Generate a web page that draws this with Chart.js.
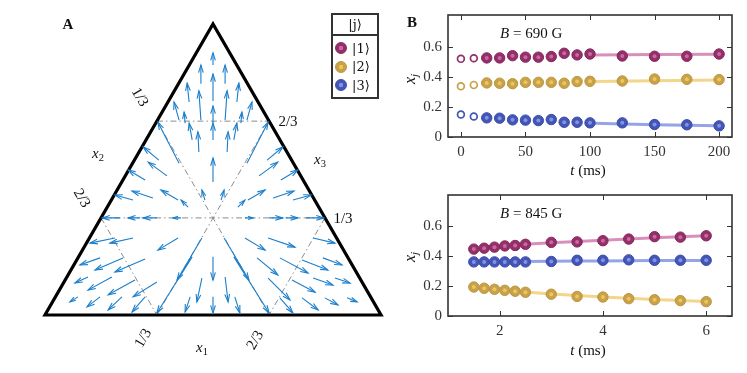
<!DOCTYPE html>
<html>
<head>
<meta charset="utf-8">
<script src="https://cdn.jsdelivr.net/npm/chart.js@4.4.1/dist/chart.umd.min.js"></script>
<style>
  body { margin:0; background:#fff; }
  #fig { position:relative; width:747px; height:373px; overflow:hidden; font-family:"Liberation Serif","DejaVu Serif",serif; color:#111; }
  #fig canvas { position:absolute; }
  .t { position:absolute; white-space:nowrap; line-height:1; font-size:15px; transform:translate(-50%,-50%); }
  .tl { transform:translate(0,-50%); }
  .r60 { transform:translate(-50%,-50%) rotate(60deg); }
  .rm60 { transform:translate(-50%,-50%) rotate(-60deg); }
  .rm90 { transform:translate(-50%,-50%) rotate(-90deg); }
  .b { font-weight:bold; }
  sub { font-size:70%; vertical-align:-0.3em; line-height:0; }
  .ket { font-family:"DejaVu Serif",serif; font-size:13px; }
  #legend { position:absolute; left:331px; top:13px; width:44px; height:82px; border:2px solid #333; font-size:14px; }
  #legend .lh { height:19px; border-bottom:2px solid #333; text-align:center; line-height:20px; }
  #legend .rows { padding-top:3px; }
  #legend .lr { height:18.5px; display:flex; align-items:center; padding-left:2px; }
  #legend .mk { width:10px; height:10px; border-radius:50%; border:1px solid; margin-right:5px; }
</style>
</head>
<body>
<div id="fig">
  <canvas id="tri" width="400" height="373" style="left:0;top:0"></canvas>
  <canvas id="top" width="347" height="180" style="left:400px;top:0"></canvas>
  <canvas id="bot" width="347" height="193" style="left:400px;top:180px"></canvas>

  <div class="t b" style="left:68px;top:24px">A</div>
  <div class="t b" style="left:412px;top:22px">B</div>

  <div class="t r60" style="left:140px;top:97px">1/3</div>
  <div class="t r60" style="left:82px;top:198px">2/3</div>
  <div class="t" style="left:98px;top:153px"><i>x</i><sub>2</sub></div>
  <div class="t" style="left:288px;top:121px">2/3</div>
  <div class="t" style="left:343px;top:218px">1/3</div>
  <div class="t" style="left:320px;top:159px"><i>x</i><sub>3</sub></div>
  <div class="t rm60" style="left:143px;top:338px">1/3</div>
  <div class="t rm60" style="left:255px;top:340px">2/3</div>
  <div class="t" style="left:202px;top:347px"><i>x</i><sub>1</sub></div>

  <div id="legend">
    <div class="lh"><span class="ket">|j⟩</span></div>
    <div class="rows">
      <div class="lr"><span class="mk" style="background:radial-gradient(circle,#c86a9f 0 2px,#932f69 2.4px);border-color:#86265c"></span><span class="ket">|1⟩</span></div>
      <div class="lr"><span class="mk" style="background:radial-gradient(circle,#eac75c 0 2px,#c8a14a 2.4px);border-color:#bb953f"></span><span class="ket">|2⟩</span></div>
      <div class="lr"><span class="mk" style="background:radial-gradient(circle,#8193e2 0 2px,#4355b5 2.4px);border-color:#3a4aa8"></span><span class="ket">|3⟩</span></div>
    </div>
  </div>

  <div class="t tl" style="left:500px;top:33px;font-size:15px"><i>B</i> = 690 G</div>
  <div class="t tl" style="left:500px;top:213px;font-size:15px"><i>B</i> = 845 G</div>
  <div class="t rm90" style="left:410px;top:79px;font-size:16px"><i>x</i><sub><i>j</i></sub></div>
  <div class="t rm90" style="left:410px;top:257px;font-size:16px"><i>x</i><sub><i>j</i></sub></div>
  <div class="t" style="left:588px;top:170px;font-size:15px"><i>t</i> (ms)</div>
  <div class="t" style="left:588px;top:350px;font-size:15px"><i>t</i> (ms)</div>
</div>

<script>
// ---- panel A: ternary flow field (triangle side = 1) ----
const cornerX = [0, 1, 0.5, 0, 1];
const cornerY = [0, 0, 0.866, 0, 0];

// dash-dot guides x_j = 1/3 and x_j = 2/3
const guideX1 = [0.167, 0.333, 0.667, 0.333, 0.167, 0.833];
const guideY1 = [0.289, 0,     0,     0.577, 0.289, 0.289];
const guideX2 = [0.833, 0.667, 0.333, 0.667, 0.333, 0.667];
const guideY2 = [0.289, 0.577, 0.577, 0.577, 0,     0];

// arrows: tail -> head
const arrowTailX = [0.5,0.464,0.536,0.5,0.429,0.571,0.464,0.536,0.399,0.601,0.417,0.583,0.5,
  0.5,0.5,0.458,0.542,0.438,0.562,0.399,0.601,0.476,0.524,
  0.339,0.363,0.298,0.396,0.321,0.262,0.426,0.405,0.333,0.283,0.223,
  0.661,0.637,0.702,0.604,0.679,0.738,0.574,0.595,0.667,0.717,0.777,
  0.208,0.262,0.396,0.164,0.232,0.298,0.467,0.128,0.199,0.268,0.333,0.098,0.164,0.229,0.298,0.438,
  0.5,0.5,0.467,0.432,0.536,0.565,
  0.595,0.664,0.798,0.631,0.699,0.765,0.827,0.664,0.735,0.798,0.863,0.699,0.765,0.833,0.899,0.562,0.533];
const arrowTailY = [0.744,0.688,0.688,0.637,0.634,0.634,0.580,0.580,0.580,0.580,0.571,0.571,0.565,
  0.396,0.521,0.485,0.485,0.521,0.521,0.452,0.452,0.342,0.342,
  0.461,0.414,0.402,0.342,0.348,0.342,0.321,0.289,0.289,0.289,0.289,
  0.461,0.414,0.402,0.342,0.348,0.342,0.321,0.289,0.289,0.289,0.289,
  0.229,0.229,0.229,0.170,0.170,0.167,0.229,0.113,0.113,0.104,0.098,0.054,0.054,0.054,0.054,0.173,
  0.173,0.054,0.110,0.054,0.113,0.054,
  0.229,0.229,0.229,0.170,0.170,0.164,0.170,0.110,0.104,0.110,0.110,0.051,0.051,0.051,0.051,0.173,0.229];
const arrowHeadX = [0.5,0.464,0.536,0.5,0.423,0.577,0.458,0.542,0.384,0.616,0.414,0.586,0.5,
  0.5,0.5,0.455,0.545,0.429,0.571,0.336,0.664,0.467,0.533,
  0.292,0.307,0.247,0.345,0.259,0.208,0.405,0.381,0.292,0.247,0.170,
  0.708,0.693,0.753,0.655,0.741,0.792,0.595,0.619,0.708,0.753,0.830,
  0.134,0.193,0.336,0.104,0.149,0.208,0.393,0.089,0.128,0.188,0.262,0.074,0.125,0.188,0.259,0.333,
  0.5,0.5,0.452,0.417,0.545,0.580,
  0.655,0.744,0.863,0.693,0.783,0.842,0.884,0.729,0.804,0.857,0.908,0.738,0.813,0.872,0.929,0.667,0.607];
const arrowHeadY = [0.780,0.744,0.744,0.717,0.690,0.690,0.667,0.667,0.634,0.634,0.604,0.604,0.622,
  0.467,0.571,0.545,0.545,0.571,0.571,0.574,0.574,0.372,0.372,
  0.500,0.455,0.432,0.372,0.369,0.357,0.342,0.289,0.289,0.289,0.289,
  0.500,0.455,0.432,0.372,0.369,0.357,0.342,0.289,0.289,0.289,0.289,
  0.214,0.214,0.193,0.149,0.134,0.128,0.104,0.095,0.074,0.060,0.054,0.039,0.024,0.015,0.009,0.006,
  0.104,0.006,0.039,0.009,0.039,0.006,
  0.193,0.202,0.214,0.119,0.125,0.134,0.149,0.045,0.068,0.089,0.095,0.006,0.015,0.030,0.039,0.006,0.104];

// ---- panel B data ----
const tTop = [0, 10, 20, 30, 40, 50, 60, 70, 80, 90, 100, 125, 150, 175, 200];
const x1Top = [0.519, 0.523, 0.525, 0.525, 0.540, 0.530, 0.530, 0.534, 0.556, 0.545, 0.551, 0.538, 0.536, 0.536, 0.551];
const x2Top = [0.337, 0.346, 0.359, 0.357, 0.354, 0.363, 0.363, 0.363, 0.357, 0.368, 0.370, 0.372, 0.385, 0.383, 0.381];
const x3Top = [0.149, 0.136, 0.127, 0.125, 0.114, 0.112, 0.109, 0.116, 0.098, 0.098, 0.094, 0.094, 0.083, 0.081, 0.074];
const fitTopT = [103, 150, 200];
const fit1Top = [0.545, 0.547, 0.550];
const fit2Top = [0.368, 0.374, 0.378];
const fit3Top = [0.092, 0.082, 0.074];
const errT = [175];
const errLo = [0.514];
const errHi = [0.562];
const xTicksTop = [0, 50, 100, 150, 200];

const tBot = [1.5, 1.7, 1.9, 2.1, 2.3, 2.5, 3, 3.5, 4, 4.5, 5, 5.5, 6];
const x1Bot = [0.448, 0.454, 0.461, 0.469, 0.472, 0.480, 0.493, 0.496, 0.504, 0.515, 0.531, 0.528, 0.537];
const x2Bot = [0.194, 0.186, 0.179, 0.172, 0.166, 0.159, 0.146, 0.131, 0.127, 0.116, 0.109, 0.103, 0.096];
const x3Bot = [0.362, 0.362, 0.362, 0.362, 0.362, 0.362, 0.365, 0.373, 0.373, 0.376, 0.373, 0.373, 0.373];
const fitBotT = [2.5, 3, 3.5, 4, 4.5, 5, 5.5, 6];
const fit1Bot = [0.481, 0.490, 0.499, 0.507, 0.515, 0.523, 0.530, 0.537];
const fit2Bot = [0.160, 0.148, 0.137, 0.127, 0.118, 0.110, 0.103, 0.097];
const fit3Bot = [0.364, 0.366, 0.368, 0.369, 0.370, 0.371, 0.372, 0.372];
const xTicksBot = [2, 4, 6];
const yTicks = [0, 0.2, 0.4, 0.6];

const colors = [
  {dark:'#86265c', mid:'#932f69', light:'#c86a9f', fit:'#d890bb'},
  {dark:'#bb953f', mid:'#c8a14a', light:'#eac75c', fit:'#f3d58c'},
  {dark:'#3a4aa8', mid:'#4355b5', light:'#8193e2', fit:'#94a4ea'}
];
const arrowColor = '#1b7fcc';

function pts(xs, ys) { return xs.map((v, i) => ({x: v, y: ys[i]})); }
function segs(x1, y1, x2, y2) {
  const out = [];
  x1.forEach((_, i) => out.push({x: x1[i], y: y1[i]}, {x: x2[i], y: y2[i]}, {x: NaN, y: NaN}));
  return out;
}

const arrowHeads = {
  id: 'arrowHeads',
  afterDatasetsDraw(chart) {
    const {ctx, scales: {x, y}} = chart;
    ctx.save();
    ctx.strokeStyle = arrowColor;
    ctx.lineWidth = 1.1;
    for (let i = 0; i < arrowTailX.length; i++) {
      const x0 = x.getPixelForValue(arrowTailX[i]), y0 = y.getPixelForValue(arrowTailY[i]);
      const x1 = x.getPixelForValue(arrowHeadX[i]), y1 = y.getPixelForValue(arrowHeadY[i]);
      const a = Math.atan2(y1 - y0, x1 - x0);
      const L = Math.min(8, 0.65 * Math.hypot(x1 - x0, y1 - y0));
      ctx.beginPath();
      ctx.moveTo(x1 - L * Math.cos(a - 0.3), y1 - L * Math.sin(a - 0.3));
      ctx.lineTo(x1, y1);
      ctx.lineTo(x1 - L * Math.cos(a + 0.3), y1 - L * Math.sin(a + 0.3));
      ctx.stroke();
    }
    ctx.restore();
  }
};

new Chart(document.getElementById('tri'), {
  type: 'scatter',
  data: {
    datasets: [
      {data: pts(cornerX, cornerY), showLine: true, borderColor: '#000', borderWidth: 3.2,
       borderJoinStyle: 'miter', pointRadius: 0, order: 1},
      {data: segs(arrowTailX, arrowTailY, arrowHeadX, arrowHeadY), showLine: true, spanGaps: false,
       borderColor: arrowColor, borderWidth: 1.1, pointRadius: 0, order: 2},
      {data: segs(guideX1, guideY1, guideX2, guideY2), showLine: true, spanGaps: false,
       borderColor: '#8c8c8c', borderWidth: 1, borderDash: [6, 3, 1.5, 3], pointRadius: 0, order: 3}
    ]
  },
  options: {
    responsive: false, animation: false, events: [],
    layout: {padding: 0},
    plugins: {legend: {display: false}, tooltip: {enabled: false}},
    scales: {
      x: {type: 'linear', display: false, min: -45 / 336, max: 355 / 336},
      y: {type: 'linear', display: false, min: -58 / 336, max: 315 / 336}
    }
  },
  plugins: [arrowHeads]
});

const frame = {
  id: 'frame',
  afterDraw(chart) {
    const {ctx, chartArea: a, scales: {x, y}} = chart;
    ctx.save();
    ctx.strokeStyle = '#333';
    ctx.lineWidth = 1;
    ctx.beginPath();
    x.ticks.forEach(t => {
      const p = Math.round(x.getPixelForValue(t.value)) + 0.5;
      ctx.moveTo(p, a.bottom); ctx.lineTo(p, a.bottom - 5);
      ctx.moveTo(p, a.top); ctx.lineTo(p, a.top + 5);
    });
    y.ticks.forEach(t => {
      const p = Math.round(y.getPixelForValue(t.value)) + 0.5;
      ctx.moveTo(a.left, p); ctx.lineTo(a.left + 5, p);
      ctx.moveTo(a.right, p); ctx.lineTo(a.right - 5, p);
    });
    ctx.stroke();
    ctx.lineWidth = 1.6;
    ctx.strokeRect(a.left, a.top, a.right - a.left, a.bottom - a.top);
    ctx.restore();
  }
};

function seriesSets(t, vals, fitT, fitV, c, open) {
  return [
    {data: pts(fitT, fitV), showLine: true, borderColor: c.fit, borderWidth: 3, pointRadius: 0, order: 5},
    {data: pts(t.slice(open), vals.slice(open)), pointRadius: 5.2, pointBorderWidth: 1,
     pointBackgroundColor: c.mid, pointBorderColor: c.dark, order: 2},
    {data: pts(t.slice(open), vals.slice(open)), pointRadius: 2, pointBorderWidth: 0,
     pointBackgroundColor: c.light, order: 1},
    {data: pts(t.slice(0, open), vals.slice(0, open)), pointRadius: 3.4, pointBorderWidth: 1.7,
     pointBackgroundColor: '#fff', pointBorderColor: c.mid, order: 2}
  ];
}

function panelB(id, datasets, xmin, xmax, xTicks, padTop, xHeight) {
  const tickFont = {family: 'Liberation Serif', size: 15};
  new Chart(document.getElementById(id), {
    type: 'scatter',
    data: {datasets: datasets},
    options: {
      responsive: false, animation: false, events: [],
      layout: {padding: {top: padTop, right: 15, left: 0, bottom: 0}},
      plugins: {legend: {display: false}, tooltip: {enabled: false}},
      scales: {
        x: {type: 'linear', min: xmin, max: xmax,
            afterBuildTicks: s => { s.ticks = xTicks.map(v => ({value: v})); },
            afterFit: s => { s.height = xHeight; },
            grid: {display: false, drawTicks: false}, border: {display: false},
            ticks: {padding: 6, font: tickFont, color: '#333', callback: v => String(v)}},
        y: {type: 'linear', min: 0, max: 0.81,
            afterBuildTicks: s => { s.ticks = yTicks.map(v => ({value: v})); },
            afterFit: s => { s.width = 48; },
            grid: {display: false, drawTicks: false}, border: {display: false},
            ticks: {padding: 6, font: tickFont, color: '#333', callback: v => String(v)}}
      }
    },
    plugins: [frame]
  });
}

const topSets = [].concat(
  seriesSets(tTop, x1Top, fitTopT, fit1Top, colors[0], 2),
  seriesSets(tTop, x2Top, fitTopT, fit2Top, colors[1], 2),
  seriesSets(tTop, x3Top, fitTopT, fit3Top, colors[2], 2),
  [{data: [{x: errT[0], y: errLo[0]}, {x: errT[0], y: errHi[0]}], showLine: true,
    borderColor: colors[0].dark, borderWidth: 1.5, pointRadius: 0, order: 3}]
);
panelB('top', topSets, -10, 210, xTicksTop, 14, 43);

const botSets = [].concat(
  seriesSets(tBot, x1Bot, fitBotT, fit1Bot, colors[0], 0),
  seriesSets(tBot, x2Bot, fitBotT, fit2Bot, colors[1], 0),
  seriesSets(tBot, x3Bot, fitBotT, fit3Bot, colors[2], 0)
);
panelB('bot', botSets, 1, 6.5, xTicksBot, 13, 57);
</script>
</body>
</html>
